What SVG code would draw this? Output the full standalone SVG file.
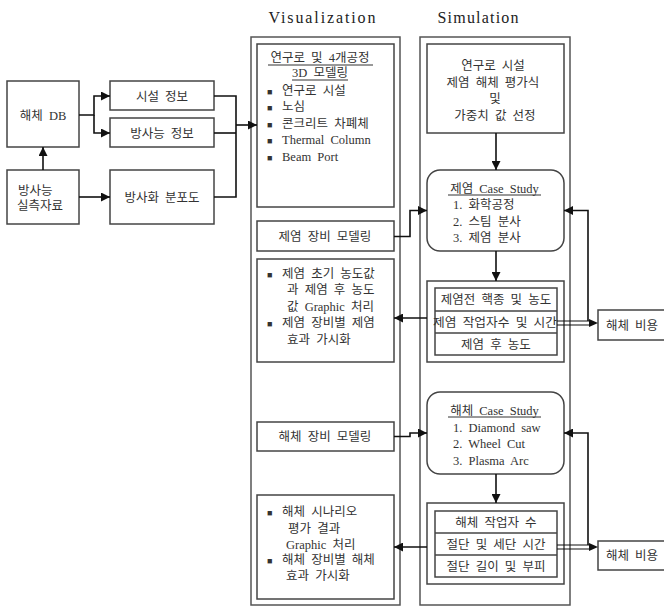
<svg xmlns="http://www.w3.org/2000/svg" width="664" height="607" viewBox="0 0 664 607">
<defs>
<style>
.box{fill:#fff;stroke:#444;stroke-width:1.5}
.frame{fill:none;stroke:#555;stroke-width:1.5}
.c{fill:none;stroke:#111;stroke-width:1.6}
.t{font-family:"Liberation Serif","Noto Sans CJK KR",serif;font-size:12.5px;fill:#333;word-spacing:3px}
.m{text-anchor:middle}
.title{font-family:"Liberation Serif","Noto Sans CJK KR",serif;font-size:16px;fill:#222;text-anchor:middle}
.u{stroke:#333;stroke-width:1}
.b{font-size:9px}
</style>
<marker id="ah" viewBox="0 0 10 10" refX="10" refY="5" markerWidth="9" markerHeight="9" markerUnits="userSpaceOnUse" orient="auto">
<path d="M0,0 L10,5 L0,10 z" fill="#111"/>
</marker>
</defs>
<rect width="664" height="607" fill="#fff"/>

<text class="title" x="322" y="23" textLength="107">Visualization</text>
<text class="title" x="478" y="23" textLength="81">Simulation</text>

<rect class="frame" x="251" y="37" width="149" height="568"/>
<rect class="frame" x="420" y="37" width="150" height="568"/>

<g id="db">
<rect class="box" x="7" y="81" width="72" height="66"/>
<text class="t m" x="43" y="119.5">해체 DB</text>
</g>
<g id="facility">
<rect class="box" x="110" y="81" width="104" height="29"/>
<text class="t m" x="162" y="100.5">시설 정보</text>
</g>
<g id="radinfo">
<rect class="box" x="110" y="118" width="104" height="29"/>
<text class="t m" x="162" y="137.5">방사능 정보</text>
</g>
<g id="measured">
<rect class="box" x="7" y="170" width="72" height="54"/>
<text class="t" x="18" y="195">방사능</text>
<text class="t" x="17" y="210">실측자료</text>
</g>
<g id="activation">
<rect class="box" x="110" y="170" width="104" height="54"/>
<text class="t m" x="162" y="201.5">방사화 분포도</text>
</g>

<g id="vis-model">
<rect class="box" x="257" y="44" width="137" height="163"/>
<text class="t m" x="320" y="62">연구로 및 4개공정</text>
<line class="u" x1="268" y1="65" x2="373" y2="65"/>
<text class="t m" x="320" y="77">3D 모델링</text>
<line class="u" x1="292" y1="80" x2="348" y2="80"/>
<text class="t" x="267" y="94.5"><tspan class="b">■</tspan></text><text class="t" x="282" y="94.5">연구로 시설</text>
<text class="t" x="267" y="111"><tspan class="b">■</tspan></text><text class="t" x="282" y="111">노심</text>
<text class="t" x="267" y="127.5"><tspan class="b">■</tspan></text><text class="t" x="282" y="127.5">콘크리트 차폐체</text>
<text class="t" x="267" y="143.5"><tspan class="b">■</tspan></text><text class="t" x="282" y="143.5">Thermal Column</text>
<text class="t" x="267" y="160.5"><tspan class="b">■</tspan></text><text class="t" x="282" y="160.5">Beam Port</text>
</g>
<g id="vis-decon-equip">
<rect class="box" x="257" y="221" width="137" height="30"/>
<text class="t m" x="325" y="240.5">제염 장비 모델링</text>
</g>
<g id="vis-decon-result">
<rect class="box" x="257" y="259" width="137" height="103"/>
<text class="t" x="267" y="277.5"><tspan class="b">■</tspan></text><text class="t" x="282" y="277.5">제염 초기 농도값</text>
<text class="t" x="287" y="293.5">과 제염 후 농도</text>
<text class="t" x="287" y="310.5">값 Graphic 처리</text>
<text class="t" x="267" y="326.5"><tspan class="b">■</tspan></text><text class="t" x="282" y="326.5">제염 장비별 제염</text>
<text class="t" x="287" y="343.5">효과 가시화</text>
</g>
<g id="vis-dismantle-equip">
<rect class="box" x="257" y="422" width="137" height="29"/>
<text class="t m" x="325" y="441">해체 장비 모델링</text>
</g>
<g id="vis-dismantle-result">
<rect class="box" x="257" y="495" width="137" height="104"/>
<text class="t" x="267" y="515.5"><tspan class="b">■</tspan></text><text class="t" x="282" y="515.5">해체 시나리오</text>
<text class="t" x="288" y="532.5">평가 결과</text>
<text class="t" x="286" y="548.5">Graphic 처리</text>
<text class="t" x="267" y="563.5"><tspan class="b">■</tspan></text><text class="t" x="282" y="563.5">해체 장비별 해체</text>
<text class="t" x="286" y="579.5">효과 가시화</text>
</g>

<g id="sim-eval">
<rect class="box" x="427" y="44" width="137" height="89"/>
<text class="t m" x="493" y="69.5">연구로 시설</text>
<text class="t m" x="493" y="86.5">제염 해체 평가식</text>
<text class="t m" x="495" y="102.5">및</text>
<text class="t m" x="495" y="119.5">가중치 값 선정</text>
</g>
<g id="sim-decon-case">
<rect class="box" x="427" y="170" width="137" height="81" rx="13" ry="13"/>
<text class="t m" x="494.5" y="192.5">제염 Case Study</text>
<line class="u" x1="448" y1="195" x2="541" y2="195"/>
<text class="t" x="453" y="208.5">1. 화학공정</text>
<text class="t" x="453" y="225.5">2. 스팀 분사</text>
<text class="t" x="453" y="241.5">3. 제염 분사</text>
</g>
<g id="sim-decon-result">
<rect class="box" x="427" y="281" width="137" height="81"/>
<rect class="box" x="435" y="288" width="122" height="67"/>
<line class="u" x1="435" y1="311" x2="557" y2="311" style="stroke:#444;stroke-width:1.5"/>
<line class="u" x1="435" y1="333" x2="557" y2="333" style="stroke:#444;stroke-width:1.5"/>
<text class="t m" x="496" y="304">제염전 핵종 및 농도</text>
<text class="t m" x="495" y="326.5" textLength="124" lengthAdjust="spacingAndGlyphs">제염 작업자수 및 시간</text>
<text class="t m" x="496" y="348.5">제염 후 농도</text>
</g>
<g id="cost1">
<rect class="box" x="598" y="310" width="72" height="30"/>
<text class="t m" x="632" y="329.5">해체 비용</text>
</g>
<g id="sim-dismantle-case">
<rect class="box" x="427" y="392" width="137" height="82" rx="13" ry="13"/>
<text class="t m" x="494.5" y="415">해체 Case Study</text>
<line class="u" x1="448" y1="417" x2="541" y2="417"/>
<text class="t" x="453" y="432">1. Diamond saw</text>
<text class="t" x="453" y="448">2. Wheel Cut</text>
<text class="t" x="453" y="464.5">3. Plasma Arc</text>
</g>
<g id="sim-dismantle-result">
<rect class="box" x="427" y="503" width="137" height="81"/>
<rect class="box" x="435" y="511" width="122" height="66"/>
<line x1="435" y1="533" x2="557" y2="533" style="stroke:#444;stroke-width:1.5"/>
<line x1="435" y1="555" x2="557" y2="555" style="stroke:#444;stroke-width:1.5"/>
<text class="t m" x="496" y="526.5">해체 작업자 수</text>
<text class="t m" x="496" y="548.5">절단 및 세단 시간</text>
<text class="t m" x="496" y="570.5">절단 길이 및 부피</text>
</g>
<g id="cost2">
<rect class="box" x="598" y="541" width="72" height="29"/>
<text class="t m" x="632" y="560">해체 비용</text>
</g>

<g id="connectors">
<path class="c" d="M79,115 H94 V96 H110" marker-end="url(#ah)"/>
<path class="c" d="M94,115 V133 H110" marker-end="url(#ah)"/>
<path class="c" d="M43,170 V147" marker-end="url(#ah)"/>
<path class="c" d="M79,197 H110" marker-end="url(#ah)"/>
<path class="c" d="M214,96 H236 V197 H214"/>
<path class="c" d="M214,133 H236"/>
<path class="c" d="M236,125 H257" marker-end="url(#ah)"/>
<path class="c" d="M496,133 V170" marker-end="url(#ah)"/>
<path class="c" d="M496,251 V281" marker-end="url(#ah)"/>
<path class="c" d="M394,236.5 H410 V210.5 H427" marker-end="url(#ah)"/>
<path class="c" d="M427,318 H394" marker-end="url(#ah)"/>
<path class="c" d="M557,321 H590 M557,325 H590" style="stroke-width:1.2"/>
<path d="M589,319 L598,323 L589,327 z" fill="#111"/>
<path class="c" d="M588,321 V210.5 H564" marker-end="url(#ah)"/>
<path class="c" d="M394,436.5 H410 V433 H427" marker-end="url(#ah)"/>
<path class="c" d="M496,474 V503" marker-end="url(#ah)"/>
<path class="c" d="M427,547 H394" marker-end="url(#ah)"/>
<path class="c" d="M557,545 H590 M557,549 H590" style="stroke-width:1.2"/>
<path d="M589,543 L598,547 L589,551 z" fill="#111"/>
<path class="c" d="M588,545 V433 H564" marker-end="url(#ah)"/>
</g>
</svg>
